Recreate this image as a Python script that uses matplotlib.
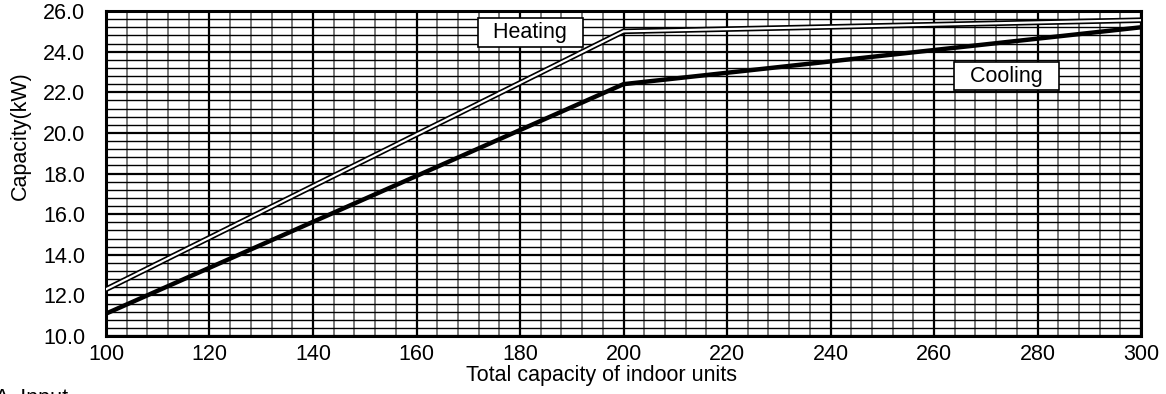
import numpy as np
import matplotlib
matplotlib.use('Agg')
import matplotlib.pyplot as plt
from matplotlib.ticker import MultipleLocator, FormatStrFormatter

plt.rcParams['font.family'] = ['Liberation Sans', 'DejaVu Sans']

# data
units = [100, 200, 300]
cooling = [11.1, 22.4, 25.2]
heating = [12.3, 25.0, 25.55]

fs = 15.5

fig = plt.figure(figsize=(11.66, 3.94), dpi=100)
ax = fig.add_axes([0.0909, 0.1472, 0.8877, 0.8248])

ax.set_xlim(100, 300)
ax.set_ylim(10, 26)
ax.xaxis.set_major_locator(MultipleLocator(20))
ax.xaxis.set_minor_locator(MultipleLocator(4))
ax.yaxis.set_major_locator(MultipleLocator(2))
ax.yaxis.set_minor_locator(MultipleLocator(0.4))
ax.yaxis.set_major_formatter(FormatStrFormatter('%.1f'))

# grid
ax.grid(True, which='major', axis='both', color='black', lw=1.6)
ax.grid(True, which='minor', axis='x', color='#6e6e6e', lw=1.3)
ax.grid(True, which='minor', axis='y', color='black', lw=1.0)
ax.set_axisbelow(True)
ax.tick_params(which='both', length=0, labelsize=fs)
ax.tick_params(axis='x', pad=6)
ax.tick_params(axis='y', pad=15)
for s in ax.spines.values():
    s.set_linewidth(2.2)

# heating: hollow double line
ax.plot(units, heating, color='black', lw=4.0, solid_joinstyle='miter', zorder=3)
ax.plot(units, heating, color='white', lw=1.6, solid_joinstyle='miter', zorder=4)
# cooling: thick solid
ax.plot(units, cooling, color='black', lw=3.2, zorder=3)

box = dict(boxstyle='square,pad=0.18', fc='white', ec='black', lw=1.2)
ax.text(182, 24.95, '  Heating  ', fontsize=fs, ha='center', va='center', bbox=box, zorder=5)
ax.text(274, 22.8, '  Cooling  ', fontsize=fs, ha='center', va='center', bbox=box, zorder=5)

ax.set_xlabel('Total capacity of indoor units', fontsize=fs, va='center')
ax.xaxis.set_label_coords(0.479, -0.123)
ax.set_ylabel('Capacity(kW)', fontsize=fs, va='center')
ax.yaxis.set_label_coords(-0.083, 0.618)

fig.text(-0.004, 1 - 388 / 394, 'A  Input', fontsize=fs, ha='left', va='top')

fig.savefig('out.png', dpi=100)
